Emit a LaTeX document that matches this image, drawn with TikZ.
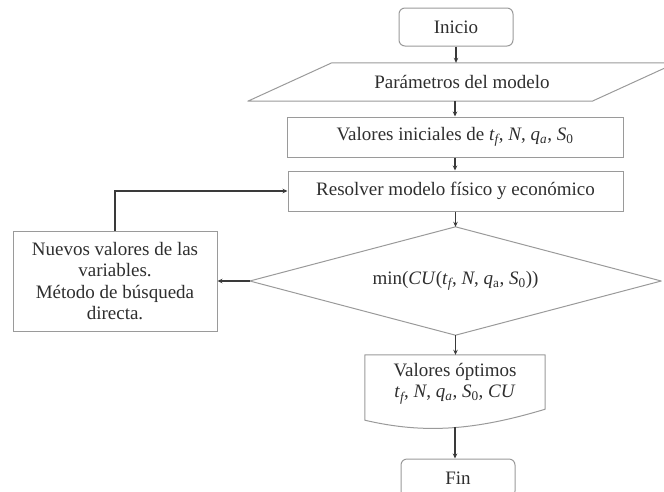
\documentclass[tikz,border=0pt]{standalone}
\usepackage{amsmath}
\usepackage{fontspec}
\setmainfont{Liberation Serif}
\usetikzlibrary{arrows.meta,calc}
\definecolor{boxc}{HTML}{9A9A9A}
\definecolor{linec}{HTML}{3A3A3A}
\definecolor{txtc}{HTML}{2E2E2E}
\newcommand{\vi}[1]{\textit{#1}}
\newcommand{\vs}[2]{\textit{#1}$_{\textit{#2}}$}
\newcommand{\vsu}[2]{\textit{#1}$_{\text{#2}}$}
\begin{document}
\begin{tikzpicture}[x=1pt,y=-1pt,
  font=\fontsize{19}{21.5}\selectfont,
  every node/.style={text=txtc},
  boxs/.style={draw=boxc, line width=1pt, minimum height=40pt, inner sep=0pt},
  plain/.style={inner sep=0pt},
  outline/.style={draw=boxc, line width=1pt, line join=round},
  arr/.style={draw=linec, line width=1.1pt, -{Stealth[length=5pt,width=4.5pt]}}]
\useasboundingbox (0,0) rectangle (664,491);
\clip (0,0) rectangle (664,491);

\node[boxs, rounded corners=6pt, minimum width=114pt, minimum height=38pt] (inicio) at (456,27) {Inicio};

\node[plain, minimum width=428pt, minimum height=38pt] (param) at (462,82) {Parámetros del modelo};
\draw[outline] (param.south west) -- ([xshift=84pt]param.north west) -- (param.north east) -- ([xshift=-84pt]param.south east) -- cycle;

\node[boxs, minimum width=336pt] (ini) at (455,137) {Valores iniciales de \vs{t}{f}, \vi{N}, \vs{q}{a}, \vsu{S}{0}};
\node[boxs, minimum width=335pt] (res) at (455.5,191) {Resolver modelo físico y económico};

\node[plain, minimum width=411pt, minimum height=108pt] (dia) at (455.5,281) {min(\vi{CU}(\vs{t}{f}, \vi{N}, \vsu{q}{a}, \vsu{S}{0}))};
\draw[outline] (dia.north) -- (dia.east) -- (dia.south) -- (dia.west) -- cycle;

\node[boxs, minimum width=204pt, minimum height=100pt, align=center] (nuevo) at (115,281) {Nuevos valores de las\\variables.\\Método de búsqueda\\directa.};

\node[plain, minimum width=180pt, minimum height=65pt] (opt) at (455,387.5) {};
\draw[outline] (opt.south west) -- (opt.north west) -- (opt.north east) -- ($(opt.south east)+(0,-11)$)
  .. controls ($(opt.south east)+(-70,10)$) and ($(opt.south west)+(60,14)$) .. (opt.south west) -- cycle;
\node[plain, align=center] (optt) at ($(opt.center)+(0,-4)$) {Valores óptimos\\\vs{t}{f}, \vi{N}, \vs{q}{a}, \vsu{S}{0}, \vi{CU}};
\coordinate (optb) at ($(opt.south)+(0,7)$);

\node[boxs, rounded corners=6pt, minimum width=114pt, minimum height=38pt] (fin) at (458,478) {Fin};

\draw[arr] (inicio.south) -- (inicio.south |- param.north);
\draw[arr] (ini.north |- param.south) -- (ini.north);
\draw[arr] (ini.south) -- (ini.south |- res.north);
\draw[arr] (res.south) -- (res.south |- dia.north);
\draw[arr] (dia.west) -- (nuevo.east);
\draw[arr] (nuevo.north) |- (res.west);
\draw[arr] (dia.south) -- (dia.south |- opt.north);
\draw[arr] (optb) -- (optb |- fin.north);
\end{tikzpicture}
\end{document}
